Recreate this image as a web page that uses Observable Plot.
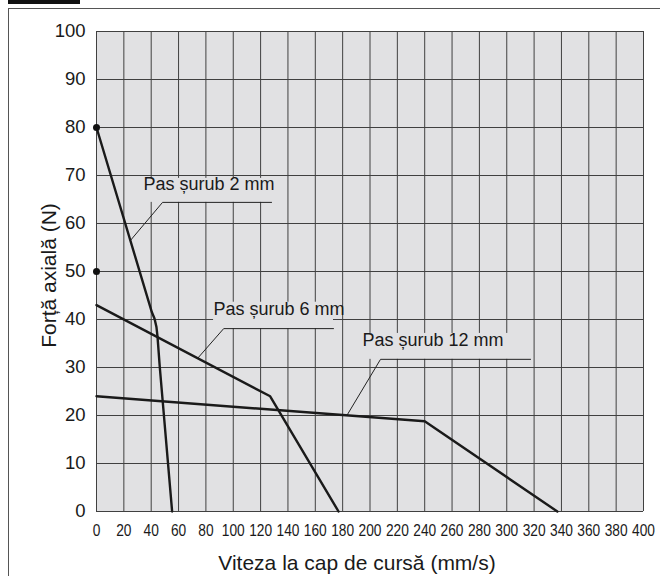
<!DOCTYPE html>
<html>
<head>
<meta charset="utf-8">
<script src="https://cdn.jsdelivr.net/npm/d3@7"></script>
<script src="https://cdn.jsdelivr.net/npm/@observablehq/plot@0.6"></script>
<style>
  html, body { margin: 0; padding: 0; background: #fff; }
  #wrap { position: relative; width: 660px; height: 576px; overflow: hidden; }
  #frame { position: absolute; left: 8px; top: 8px; width: 700px; height: 640px; border-left: 1.5px solid #555; border-top: 1.5px solid #555; }
  #tab { position: absolute; left: 8px; top: 0; width: 72px; height: 4px; background: #111; }
  #chart { position: absolute; left: 0; top: 0; }
</style>
</head>
<body>
<div id="wrap">
  <div id="frame"></div>
  <div id="tab"></div>
  <div id="chart"></div>
</div>
<script>
// ---- data ----
const xTicks = [0, 20, 40, 60, 80, 100, 120, 140, 160, 180, 200, 220, 240, 260, 280, 300, 320, 340, 360, 380, 400];
const yTicks = [0, 10, 20, 30, 40, 50, 60, 70, 80, 90, 100];

const pitch2X = [0, 40.5, 42.4, 43.8, 44.6, 46.3, 55.3];
const pitch2Y = [80, 41.5, 40.2, 38.5, 36.5, 30, 0];
const pitch6X = [0, 127, 177];
const pitch6Y = [43, 24, 0];
const pitch12X = [0, 240, 337];
const pitch12Y = [24, 18.8, 0];

const dotX = [0, 0];
const dotY = [80, 50];

const labels = ["Pas șurub 2 mm", "Pas șurub 6 mm", "Pas șurub 12 mm"];
const labelX = [34.4, 85.6, 194.5];
const labelY = [68.1, 42.1, 35.6];
const labelTop = [69.4, 43.6, 37.1];
// leader lines: pointer end, elbow, horizontal end
const leaderTipX = [24.9, 73.9, 183.5];
const leaderTipY = [56.5, 31.9, 20.2];
const leaderElbowX = [48.3, 93, 207.7];
const leaderEndX = [128, 173.3, 317.4];
const leaderY = [64.4, 38.1, 31.7];

const xLabel = "Viteza la cap de cursă (mm/s)";
const yLabel = "Forță axială (N)";

// ---- tables ----
const series = [
  ...pitch2X.map((x, i) => ({s: "2", x, y: pitch2Y[i]})),
  ...pitch6X.map((x, i) => ({s: "6", x, y: pitch6Y[i]})),
  ...pitch12X.map((x, i) => ({s: "12", x, y: pitch12Y[i]}))
];
const dots = dotX.map((x, i) => ({x, y: dotY[i]}));
const anns = labels.map((t, i) => ({t, x: labelX[i], y: labelY[i]}));
const masks = labels.map((t, i) => ({x1: labelX[i], x2: leaderEndX[i], y1: leaderY[i], y2: labelTop[i]}));
const leaders = labels.flatMap((t, i) => [
  {k: i, x: leaderTipX[i], y: leaderTipY[i]},
  {k: i, x: leaderElbowX[i], y: leaderY[i]},
  {k: i, x: leaderEndX[i], y: leaderY[i]}
]);

const bg = "#e1e1e3";
const font = "'Liberation Sans', Arial, Helvetica, sans-serif";

const chart = Plot.plot({
  width: 660,
  height: 576,
  marginLeft: 96,
  marginRight: 17,
  marginTop: 31,
  marginBottom: 65,
  style: {background: "transparent", color: "#1a1a1a", fontFamily: font},
  x: {domain: [0, 400], axis: null},
  y: {domain: [0, 100], axis: null},
  marks: [
    Plot.frame({fill: bg, stroke: null}),
    Plot.ruleX(xTicks, {stroke: "#404040", strokeWidth: 1}),
    Plot.ruleY(yTicks, {stroke: "#404040", strokeWidth: 1}),
    Plot.rect(masks, {x1: "x1", x2: "x2", y1: "y1", y2: "y2", fill: bg}),
    Plot.line(leaders, {x: "x", y: "y", z: "k", stroke: "#222", strokeWidth: 1}),
    Plot.text(anns, {x: "x", y: "y", text: "t", textAnchor: "start", lineAnchor: "middle", fontSize: 18, fill: "#1a1a1a"}),
    Plot.line(series, {x: "x", y: "y", z: "s", stroke: "#1a1a1a", strokeWidth: 2.4, strokeLinejoin: "round"}),
    Plot.dot(dots, {x: "x", y: "y", r: 3.5, fill: "#111", stroke: null}),
    Plot.axisY(yTicks, {tickSize: 0, tickPadding: 11, fontSize: 18.5, label: null, fill: "#1a1a1a"}),
    Plot.axisX(xTicks, {tickSize: 0, tickPadding: 13, fontSize: 16, label: null, fill: "#1a1a1a", className: "xticks"}),
    Plot.text([xLabel], {frameAnchor: "bottom", textAnchor: "middle", dx: -13, dy: 58, lineAnchor: "bottom", fontSize: 21, fill: "#1a1a1a"}),
    Plot.text([yLabel], {frameAnchor: "left", textAnchor: "middle", dx: -47, dy: 4, rotate: -90, lineAnchor: "middle", fontSize: 21, fill: "#1a1a1a"})
  ]
});
// condense the x tick labels horizontally, like the reference's narrow face
chart.querySelectorAll(".xticks text").forEach(t => {
  const tr = t.getAttribute("transform") || "";
  t.setAttribute("transform", tr + " scale(0.86,1)");
});
document.getElementById("chart").appendChild(chart);
</script>
</body>
</html>
